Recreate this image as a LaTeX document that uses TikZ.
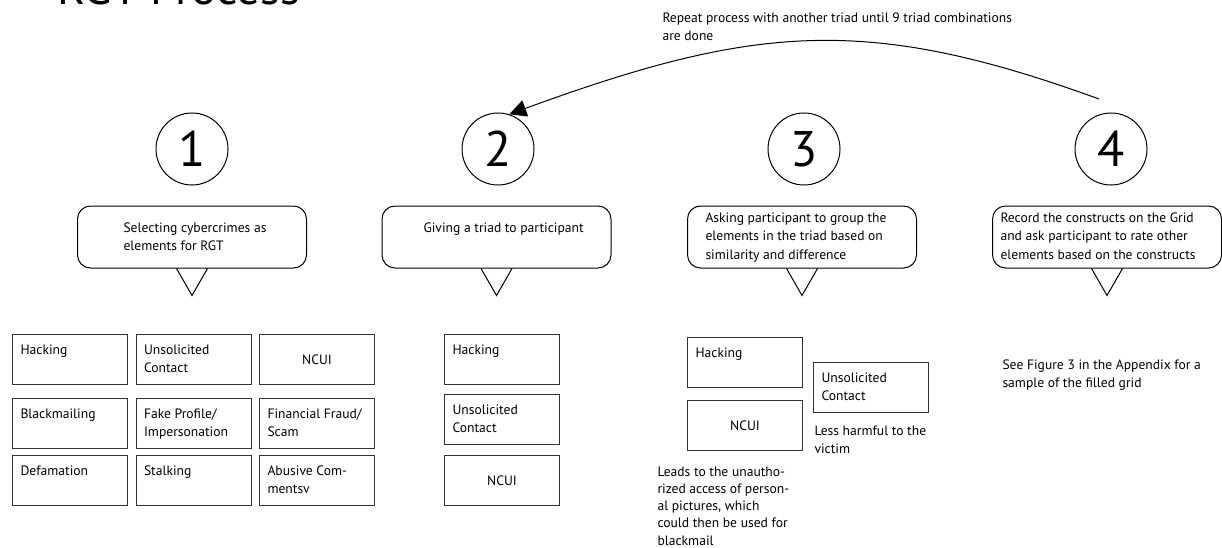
\documentclass[tikz,border=0pt]{standalone}
\usepackage{fontspec}
\setmainfont{PT Sans}
\usepackage{tikz}
\usetikzlibrary{positioning}
\usetikzlibrary{arrows.meta}

\newcommand{\celltop}[1]{\parbox[c][30pt][t]{99pt}{#1}}

\begin{document}
\begin{tikzpicture} [
    x=1pt, y=-1pt,                      % picture in pixels, y going down
    font=\fontsize{13.6}{18.5}\selectfont,
    line width=1pt,
    ]
% -------------------------------------------------
\tikzset{
  stepnum/.style={draw, circle, minimum size=72pt, inner sep=0pt, font=\fontsize{50}{50}\selectfont},
  bubble/.style={draw, rectangle, rounded corners=13pt, minimum width=229pt, minimum height=62pt, inner sep=0pt},
  note/.style={anchor=north west, align=left, inner sep=0pt},
  cell/.style={draw=black!80, rectangle, minimum width=115pt, minimum height=50pt, inner sep=0pt, align=center},
  line/.style={draw, -{Triangle[length=17pt, width=17pt]}},
}
    \useasboundingbox (0,0) rectangle (1222,548);

    \node [anchor=base west, inner sep=0pt, font=\fontsize{47}{47}\selectfont] (title) at (57,5) {RGT Process};

    % steps
    \node [stepnum] (c1) at (192,149) {1};
    \node [stepnum] (c2) at (498,149) {2};
    \node [stepnum] (c3) at (804,149) {3};
    \node [stepnum] (c4) at (1111,149) {4};

    \node [bubble] (b1) at (192,237) {};
    \node [bubble] (b2) at (496.5,237) {};
    \node [bubble] (b3) at (802,237) {};
    \node [bubble] (b4) at (1107,237) {};
    \draw ([xshift=-15.5pt]b1.south) -- ++(15.5,27) -- ++(15.5,-27);
    \draw ([xshift=-15.5pt]b2.south) -- ++(15.5,27) -- ++(15.5,-27);
    \draw ([xshift=-15.5pt]b3.south) -- ++(15.5,27) -- ++(15.5,-27);
    \draw ([xshift=-15.5pt]b4.south) -- ++(15.5,27) -- ++(15.5,-27);

    \node [note] (s1) at (123,222) {Selecting cybercrimes as\\elements for RGT};
    \node [note] (s2) at (423,222) {Giving a triad to participant};
    \node [note] (s3) at (705,212) {Asking participant to group the\\elements in the triad based on\\similarity and difference};
    \node [note] (s4) at (1000,212) {Record the constructs on the Grid\\and ask participant to rate other\\elements based on the constructs};

    % elements
    \node [cell, anchor=north west] (g11) at (12,334) {\celltop{Hacking}};
    \node [cell, right=7.5pt of g11] (g12) {\celltop{Unsolicited\\Contact}};
    \node [cell, right=7.5pt of g12] (g13) {NCUI};
    \node [cell, below=13pt of g11] (g21) {\celltop{Blackmailing}};
    \node [cell, right=7.5pt of g21] (g22) {\celltop{Fake Profile/\\Impersonation}};
    \node [cell, right=7.5pt of g22] (g23) {\celltop{Financial Fraud/\\Scam}};
    \node [cell, below=6pt of g21] (g31) {\celltop{Defamation}};
    \node [cell, right=7.5pt of g31] (g32) {\celltop{Stalking}};
    \node [cell, right=7.5pt of g32] (g33) {\celltop{Abusive Com-\\mentsv}};

    % triad
    \node [cell, anchor=north west] (t1) at (444,334) {\celltop{Hacking}};
    \node [cell, below=9pt of t1] (t2) {\celltop{Unsolicited\\Contact}};
    \node [cell, below=10pt of t2] (t3) {NCUI};

    % grouping
    \node [cell, anchor=north west] (h3) at (687,337) {\celltop{Hacking}};
    \node [cell, below=12pt of h3] (n3) {NCUI};
    \node [cell, anchor=north west] (u3) at (813,362) {\celltop{Unsolicited\\Contact}};
    \node [note] (l3) at (814,425) {Less harmful to the\\victim};
    \node [note, font=\fontsize{13.6}{17.3}\selectfont] (l4) at (657,466) {Leads to the unautho-\\rized access of person-\\al pictures, which\\could then be used for\\blackmail};

    \node [note] (f4) at (1002,359) {See Figure 3 in the Appendix for a\\sample of the filled grid};

    % repeat
    \node [note] (rep) at (662,12) {Repeat process with another triad until 9 triad combinations\\are done};
    \coordinate (a4) at (1099,99);
    \path [line] (a4) .. controls (868,15) and (756,24) .. (c2.72);

\end{tikzpicture}
\end{document}
